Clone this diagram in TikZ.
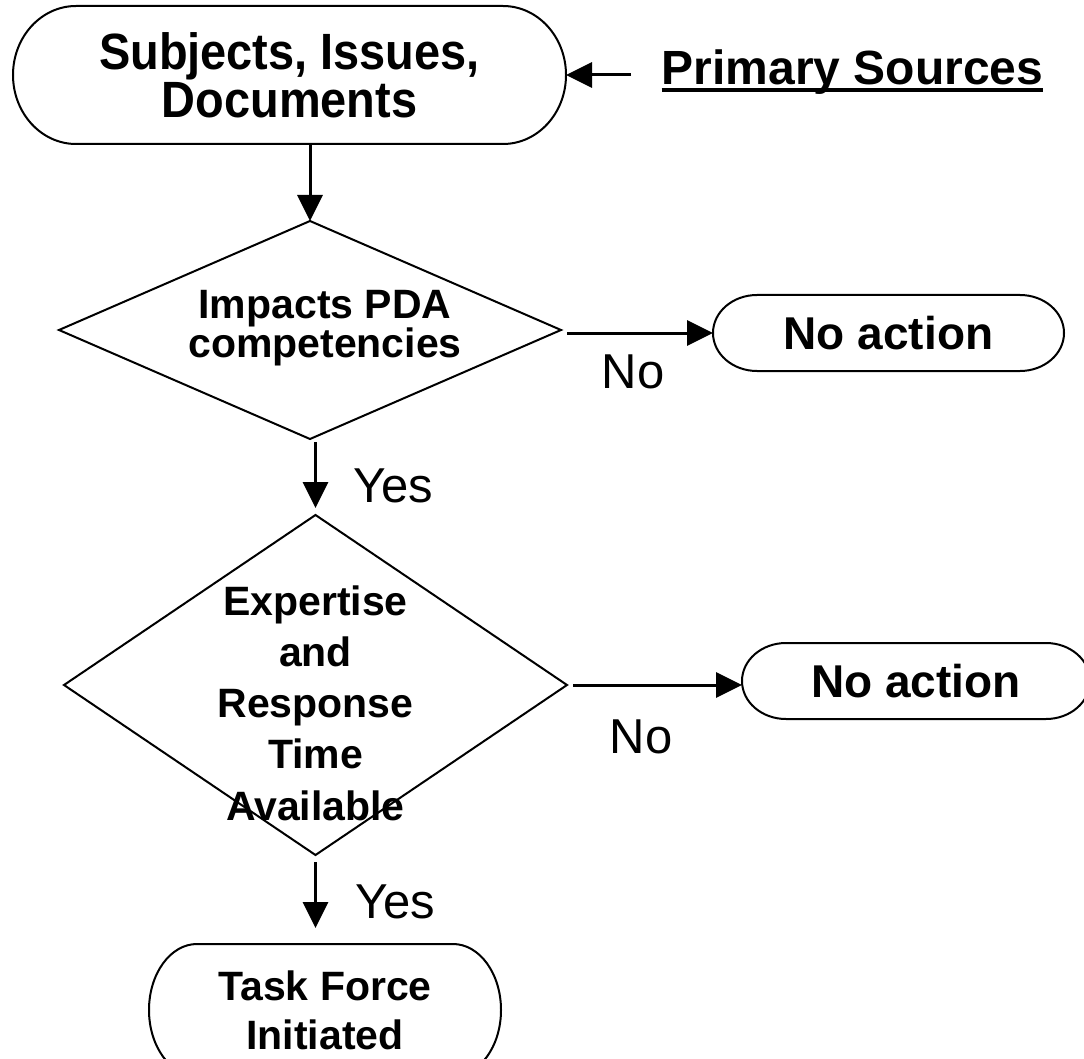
\documentclass[tikz,border=0pt]{standalone}
\usepackage{fontspec}
\setmainfont{Liberation Sans}
\newfontfamily\narrowsans{Liberation Sans}[FakeStretch=0.92]
\usetikzlibrary{shapes.geometric,arrows.meta}

\newcommand{\termpath}[3]{%
  \draw[border] ([xshift=#2]#1.north west) -- ([xshift=-#2]#1.north east)
    arc[start angle=90,end angle=-90,x radius=#2,y radius=#3]
    -- ([xshift=#2]#1.south west)
    arc[start angle=270,end angle=90,x radius=#2,y radius=#3] -- cycle;}

\tikzset{
  border/.style={line width=2pt},
  conn/.style={line width=3pt, -{Triangle[length=26pt,width=25pt]}},
  term/.style={rectangle, inner sep=0pt, outer sep=0pt, align=center},
  dia/.style={diamond, draw, line width=2pt, inner sep=0pt, outer sep=0pt},
  dtext/.style={inner sep=0pt, outer sep=0pt, align=center},
  lbl/.style={inner sep=0pt, outer sep=0pt, anchor=base, font=\fontsize{49}{49}\selectfont},
}

\begin{document}
\begin{tikzpicture}[x=1pt,y=-1pt]
\useasboundingbox (0,0) rectangle (1084,1059);
\clip (0,0) rectangle (1084,1059);

% top terminator
\node[term, minimum width=553pt, minimum height=138pt,
      font={\narrowsans\fontsize{51}{48}\selectfont\bfseries}] (top) at (289.5,75)
      {Subjects, Issues,\\Documents};
\termpath{top}{63pt}{69pt}

% primary sources
\node[lbl, font={\fontsize{48}{48}\selectfont\bfseries}] (ps) at (852.5,85) {Primary Sources};
\draw[line width=3.5pt] ([yshift=-5pt]ps.base west) -- ([yshift=-5pt]ps.base east);
\coordinate (psa) at (631,75);
\draw[conn] (psa) -- (top.east);

% decision 1
\node[dia, minimum width=502pt, minimum height=218pt,
      label={[dtext, font={\fontsize{41}{39}\selectfont\bfseries}, xshift=15pt, yshift=2pt]center:{Impacts PDA\\competencies}}]
      (d1) at (310,330) {};

% no action 1
\node[term, minimum width=351pt, minimum height=76pt,
      font={\fontsize{46}{46}\selectfont\bfseries}] (na1) at (888.5,333) {No action};
\termpath{na1}{44pt}{38pt}

% decision 2
\node[dia, minimum width=503pt, minimum height=340pt,
      label={[dtext, font={\fontsize{41}{51.25}\selectfont\bfseries}, yshift=-18pt]center:{Expertise\\and\\Response\\Time\\Available}}]
      (d2) at (315.5,685) {};

% no action 2
\node[term, minimum width=348pt, minimum height=76pt,
      font={\fontsize{46}{46}\selectfont\bfseries}] (na2) at (916,681) {No action};
\termpath{na2}{44pt}{38pt}

% task force
\node[term, minimum width=352pt, minimum height=132pt,
      font={\fontsize{41}{49}\selectfont\bfseries}] (tf) at (325,1010) {Task Force\\Initiated};
\termpath{tf}{48pt}{66pt}

% connectors
\draw[conn] (top.south -| d1.north) -- (d1.north);
\draw[conn, shorten <=6pt] (na1.west -| d1.east) -- (na1.west);
\draw[conn, shorten <=3pt, shorten >=7pt] (d1.south -| d2.north) -- (d2.north);
\draw[conn, shorten <=6pt] (d2.east) -- (d2.east -| na2.west);
\draw[conn, shorten <=7pt, shorten >=16pt] (d2.south) -- (d2.south |- tf.north);

% branch labels
\node[lbl] (no1) at (633,388) {No};
\node[lbl] (no2) at (641,753) {No};
\node[lbl] (yes1) at (393,502) {Yes};
\node[lbl] (yes2) at (395,918) {Yes};
\end{tikzpicture}
\end{document}
